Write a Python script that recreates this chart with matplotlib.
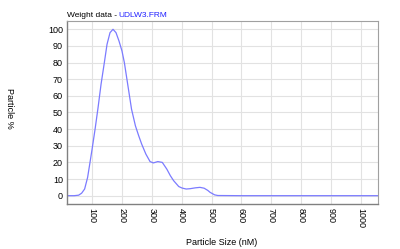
import matplotlib
matplotlib.use('Agg')
import matplotlib.pyplot as plt
from matplotlib import font_manager

# Particle size distribution
size_nm = [20, 40, 55, 65, 75, 85, 93, 100, 110, 120, 130, 141, 150, 160,
           170, 180, 190, 200, 208, 220, 232, 245, 256, 266, 280, 294, 305,
           320, 335, 350, 362, 373, 390, 401, 415, 428, 445, 461, 475, 487,
           495, 510, 521, 600, 700, 800, 900, 1000, 1057]
particle_pct = [0, 0, 0.3, 1.5, 4, 11, 20, 28, 40, 53, 67, 80, 91, 98,
                100, 98, 93, 87, 80, 66, 52, 42, 36, 31, 25, 20.5, 19.7,
                20.5, 20, 16, 12, 9, 5.5, 4.6, 4.0, 4.2, 4.7, 5, 4.5, 3.2,
                2, 0.5, 0.1, 0, 0, 0, 0, 0, 0]
x_ticks = [100, 200, 300, 400, 500, 600, 700, 800, 900, 1000]
y_ticks = [0, 10, 20, 30, 40, 50, 60, 70, 80, 90, 100]

names = {f.name for f in font_manager.fontManager.ttflist}
fam = 'Liberation Sans Narrow' if 'Liberation Sans Narrow' in names else 'Liberation Sans'
plt.rcParams['font.family'] = [fam, 'DejaVu Sans']

fig = plt.figure(figsize=(4, 2.49), dpi=100)
ax = fig.add_axes([67 / 400, 1 - 204 / 249, 311 / 400, 183 / 249])

ax.plot(size_nm, particle_pct, color='#7b7bff', lw=0.9)

ax.set_xlim(16, 1057)
ax.set_ylim(-5, 105)
ax.set_xticks(x_ticks)
ax.set_yticks(y_ticks)
ax.set_xticklabels([str(t) for t in x_ticks], rotation=270, fontsize=6.5)
ax.set_yticklabels([str(t) for t in y_ticks], fontsize=6.5)
ax.tick_params(length=0, pad=3)
ax.grid(True, color='#e2e2e2', lw=0.8)
ax.set_axisbelow(True)

for side in ['left', 'bottom']:
    ax.spines[side].set_color('#808080')
    ax.spines[side].set_linewidth(1.0)
for side in ['top', 'right']:
    ax.spines[side].set_color('#a0a0a0')
    ax.spines[side].set_linewidth(0.8)

fig.text(67 / 400, 1 - 17 / 249, 'Weight data -', fontsize=6, color='black',
         va='baseline')
fig.text(118 / 400, 1 - 17 / 249, 'UDLW3.FRM', fontsize=6, color='#2020ff',
         va='baseline')
fig.text(9 / 400, 1 - 108 / 249, 'Particle %', fontsize=6.5, rotation=270,
         ha='center', va='center')
fig.text(222 / 400, 1 - 242 / 249, 'Particle Size (nM)', fontsize=6.5,
         ha='center', va='center')

fig.savefig('out.png', dpi=100)
